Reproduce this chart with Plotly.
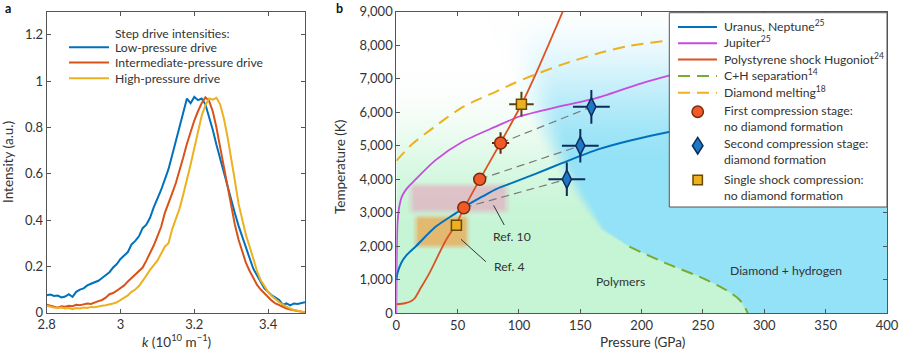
import numpy as np
import plotly.graph_objects as go

W, H = 900, 354
def fx(p): return p / W
def fy(p): return 1 - p / H

FONT = "Lato, 'Open Sans', sans-serif"
TXT = "#333333"

# ---------------- Panel a data ----------------
k_vals = [2.80, 2.81, 2.82, 2.83, 2.84, 2.85, 2.86, 2.87, 2.88, 2.89,
          2.90, 2.91, 2.92, 2.93, 2.94, 2.95, 2.96, 2.97, 2.98, 2.99,
          3.00, 3.01, 3.02, 3.03, 3.04, 3.05, 3.06, 3.07, 3.08, 3.09,
          3.10, 3.11, 3.12, 3.13, 3.14, 3.15, 3.16, 3.17, 3.18, 3.19,
          3.20, 3.21, 3.22, 3.23, 3.24, 3.25, 3.26, 3.27, 3.28, 3.29,
          3.30, 3.31, 3.32, 3.33, 3.34, 3.35, 3.36, 3.37, 3.38, 3.39,
          3.40, 3.41, 3.42, 3.43, 3.44, 3.45, 3.46, 3.47, 3.48, 3.49, 3.50]
low_drive = [0.075, 0.078, 0.072, 0.074, 0.066, 0.070, 0.080, 0.068, 0.090, 0.100,
             0.105, 0.118, 0.125, 0.130, 0.138, 0.150, 0.162, 0.175, 0.195, 0.210,
             0.232, 0.245, 0.262, 0.295, 0.310, 0.330, 0.365, 0.380, 0.410, 0.455,
             0.490, 0.530, 0.575, 0.620, 0.680, 0.740, 0.800, 0.860, 0.925, 0.905,
             0.932, 0.918, 0.925, 0.900, 0.850, 0.790, 0.725, 0.665, 0.600, 0.545,
             0.490, 0.430, 0.375, 0.325, 0.275, 0.235, 0.190, 0.160, 0.130, 0.105,
             0.090, 0.075, 0.065, 0.055, 0.035, 0.040, 0.032, 0.040, 0.038, 0.042, 0.045]
mid_drive = [0.035, 0.030, 0.025, 0.022, 0.028, 0.026, 0.030, 0.028, 0.034, 0.032,
             0.036, 0.040, 0.038, 0.045, 0.050, 0.055, 0.065, 0.080, 0.085, 0.095,
             0.105, 0.118, 0.135, 0.150, 0.165, 0.180, 0.195, 0.225, 0.255, 0.290,
             0.330, 0.370, 0.430, 0.470, 0.515, 0.560, 0.610, 0.670, 0.730, 0.785,
             0.830, 0.870, 0.905, 0.930, 0.915, 0.870, 0.800, 0.715, 0.630, 0.540,
             0.455, 0.380, 0.315, 0.260, 0.215, 0.180, 0.150, 0.120, 0.100, 0.083,
             0.065, 0.052, 0.040, 0.032, 0.025, 0.018, 0.014, 0.010, 0.006, 0.004, 0.002]
high_drive = [0.030, 0.025, 0.022, 0.020, 0.022, 0.018, 0.020, 0.015, 0.020, 0.018,
              0.022, 0.020, 0.025, 0.024, 0.028, 0.030, 0.032, 0.035, 0.040, 0.045,
              0.055, 0.062, 0.075, 0.090, 0.100, 0.115, 0.135, 0.160, 0.185, 0.205,
              0.225, 0.255, 0.285, 0.300, 0.360, 0.405, 0.450, 0.510, 0.570, 0.640,
              0.710, 0.780, 0.850, 0.895, 0.925, 0.920, 0.928, 0.900, 0.840, 0.760,
              0.670, 0.570, 0.470, 0.400, 0.335, 0.285, 0.230, 0.180, 0.140, 0.115,
              0.090, 0.072, 0.058, 0.045, 0.035, 0.025, 0.018, 0.012, 0.008, 0.004, 0.002]
a_names = ["Low-pressure drive", "Intermediate-pressure drive", "High-pressure drive"]
a_colors = ["#0072bd", "#d95319", "#edb120"]

# ---------------- Panel b data ----------------
uranus_P = [0, 1, 4, 8, 16, 32, 48.6, 58, 70, 81, 95, 114, 135, 165, 190, 223, 260, 300]
uranus_T = [1000, 1200, 1500, 1720, 2000, 2580, 2990, 3230, 3480, 3700, 3900, 4170, 4480, 4900, 5150, 5420, 5650, 5850]
jupiter_P = [0, 0.3, 1, 2.5, 4.5, 8.5, 14, 32, 54, 81, 101, 135, 163, 203, 223, 260, 300]
jupiter_T = [0, 1500, 2700, 3200, 3480, 3720, 3930, 4570, 5120, 5570, 5880, 6190, 6420, 6900, 7100, 7450, 7750]
hug_P = [0, 7, 12, 15, 20, 27, 40, 49, 55, 68, 85, 102, 115, 136]
hug_T = [270, 300, 360, 450, 760, 1200, 2150, 2680, 3120, 3990, 5090, 6230, 7250, 9030]
chsep_P = [190, 220, 247, 269, 280, 285.3, 286.5]
chsep_T = [1987, 1490, 1092, 695, 397, 98, 0]
dmelt_P = [0, 13, 27, 41, 54, 68, 81, 95, 108, 135, 163, 190, 223, 260, 300]
dmelt_T = [4550, 5050, 5450, 5830, 6150, 6400, 6610, 6850, 7050, 7420, 7740, 7980, 8150, 8320, 8480]

first_P = [55, 68, 85]
first_T = [3150, 4000, 5080]
first_Perr = [0, 0, 7]
first_Terr = [0, 0, 320]
second_P = [139, 150, 159]
second_T = [4000, 5000, 6160]
second_Perr = [15, 15, 15]
second_Terr = [500, 500, 500]
single_P = [49, 102]
single_T = [2630, 6240]
single_Perr = [0, 10]
single_Terr = [0, 370]

# Polymer / diamond boundary (for background shading)
bnd_T = [0, 98, 397, 695, 1092, 1490, 1987, 2500, 3500, 4500, 5500, 6500, 9000]
bnd_P = [287, 286, 280, 269, 247, 220, 190, 168, 150, 135, 123, 115, 100]

# ---------------- background image for panel b ----------------
def smooth(x):
    x = np.clip(x, 0, 1)
    return x * x * (3 - 2 * x)

Pg = np.arange(400) + 0.5
Tg = np.arange(300) * 30 + 15
PP, TT = np.meshgrid(Pg, Tg)
Pb = np.interp(TT, bnd_T, bnd_P)
wd = 3 + np.clip(TT - 2000, 0, None) / 4000 * 30
s = smooth((PP - Pb) / wd + 0.5)
g = smooth((7200 - TT) / 4800)
b = smooth((9300 - TT) / 5000)
white = np.array([255.0, 255.0, 255.0])
green = np.array([198.0, 245.0, 213.0])
blue = np.array([148.0, 226.0, 247.0])
gcol = white + (green - white) * g[..., None]
bcol = white + (blue - white) * b[..., None]
col = gcol * (1 - s[..., None]) + bcol * s[..., None]

def box_alpha(P0, P1, T0, T1, eP, eT):
    ax = np.clip(np.minimum(PP - P0, P1 - PP) / eP + 0.5, 0, 1)
    ay = np.clip(np.minimum(TT - T0, T1 - TT) / eT + 0.5, 0, 1)
    return ax * ay

pink = np.array([232.0, 160.0, 188.0])
orng = np.array([232.0, 176.0, 98.0])
ap = 0.6 * box_alpha(12, 90, 3030, 3830, 6, 200)
col = col * (1 - ap[..., None]) + pink * ap[..., None]
ao = 0.88 * box_alpha(16, 58, 1990, 2880, 5, 170)
col = col * (1 - ao[..., None]) + orng * ao[..., None]
img = np.clip(col, 0, 255).astype(np.uint8)

fig = go.Figure()
fig.add_trace(go.Image(z=img, x0=0.5, dx=1, y0=15, dy=30, xaxis="x2", yaxis="y2",
                       hoverinfo="skip", zsmooth="fast"))

# ---------------- panel a traces ----------------
for ys, nm, c in zip([low_drive, mid_drive, high_drive], a_names, a_colors):
    fig.add_trace(go.Scatter(x=k_vals, y=ys, mode="lines", name=nm,
                             line=dict(color=c, width=2), xaxis="x", yaxis="y",
                             showlegend=False))

# ---------------- panel b traces ----------------
def line_tr(xs, ys, color, width, dash=None):
    return go.Scatter(x=xs, y=ys, mode="lines", line=dict(color=color, width=width, dash=dash, shape="spline", smoothing=0.8),
                      xaxis="x2", yaxis="y2", showlegend=False, hoverinfo="skip")

fig.add_trace(line_tr(dmelt_P, dmelt_T, "#edb120", 2, "12px,7px"))
fig.add_trace(line_tr(chsep_P, chsep_T, "#77ac30", 2, "12px,7px"))
fig.add_trace(line_tr(jupiter_P, jupiter_T, "#c84be0", 1.8))
fig.add_trace(line_tr(uranus_P, uranus_T, "#0072bd", 2))
fig.add_trace(line_tr(hug_P, hug_T, "#de5222", 1.8))

# connectors from first stage to second stage
for i in range(3):
    fig.add_trace(go.Scatter(x=[first_P[i], second_P[i]], y=[first_T[i], second_T[i]], mode="lines",
                             line=dict(color="#7a7a7a", width=1.2, dash="8px,5px"),
                             xaxis="x2", yaxis="y2", showlegend=False, hoverinfo="skip"))

fig.add_trace(go.Scatter(x=first_P, y=first_T, mode="markers", xaxis="x2", yaxis="y2", showlegend=False,
                         error_x=dict(type="data", array=first_Perr, color="#5a2a10", thickness=2, width=0),
                         error_y=dict(type="data", array=first_Terr, color="#5a2a10", thickness=2, width=0),
                         marker=dict(symbol="circle", size=12, color="#f05a28", line=dict(color="#7a2a0a", width=1.5))))
fig.add_trace(go.Scatter(x=second_P, y=second_T, mode="markers", xaxis="x2", yaxis="y2", showlegend=False,
                         error_x=dict(type="data", array=second_Perr, color="#0d2d5a", thickness=2, width=0),
                         error_y=dict(type="data", array=second_Terr, color="#0d2d5a", thickness=2, width=0),
                         marker=dict(symbol="diamond-tall", size=13, color="#1e78c8", line=dict(color="#0d2d5a", width=1.5))))
fig.add_trace(go.Scatter(x=single_P, y=single_T, mode="markers", xaxis="x2", yaxis="y2", showlegend=False,
                         error_x=dict(type="data", array=single_Perr, color="#5a4010", thickness=2, width=0),
                         error_y=dict(type="data", array=single_Terr, color="#5a4010", thickness=2, width=0),
                         marker=dict(symbol="square", size=10, color="#edb120", line=dict(color="#6a4a00", width=1.5))))

# ---------------- layout ----------------
axis_common = dict(showgrid=False, zeroline=False, showline=True, mirror="ticks", ticks="inside",
                   ticklen=4, tickwidth=1, tickcolor="#555", linecolor="#555", linewidth=1,
                   automargin=False, tickfont=dict(family=FONT, size=13, color=TXT))

shapes = []
annotations = []

def ann(text, x, y, xanchor="center", yanchor="middle", size=12.2, ref="paper", **kw):
    xr, yr = ("paper", "paper") if ref == "paper" else ("x2", "y2")
    annotations.append(dict(text=text, x=x, y=y, xref=xr, yref=yr, xanchor=xanchor, yanchor=yanchor,
                            showarrow=False, font=dict(family=FONT, size=size, color=TXT), **kw))

# panel a legend
ann("Step drive intensities:", fx(113.3), fy(33.3), "left")
for i, (nm, c) in enumerate(zip(a_names, a_colors)):
    yy = [47.3, 62.6, 78.3][i]
    shapes.append(dict(type="line", xref="paper", yref="paper", x0=fx(69), x1=fx(109), y0=fy(yy), y1=fy(yy),
                       line=dict(color=c, width=2), layer="above"))
    ann(nm, fx(113.3), fy(yy), "left")

# panel labels
annotations.append(dict(text="<b>a</b>", x=fx(3), y=fy(8.5), xref="paper", yref="paper", xanchor="left",
                        yanchor="middle", showarrow=False, font=dict(family=FONT, size=12.5, color="#111")))
annotations.append(dict(text="<b>b</b>", x=fx(334), y=fy(8.5), xref="paper", yref="paper", xanchor="left",
                        yanchor="middle", showarrow=False, font=dict(family=FONT, size=12.5, color="#111")))

# axis titles
ann("Intensity (a.u.)", fx(8), fy(162), size=13.5, textangle=-90)
ann("<i>k</i> (10<sup>10</sup> m<sup>−1</sup>)", fx(176), fy(341), size=13.5)
ann("Temperature (K)", fx(340), fy(167), size=13.5, textangle=-90)
ann("Pressure (GPa)", fx(642), fy(342), size=13.5)

# panel b in-plot labels
ann("Ref. 10", 77, 2300, "left", ref="b")
ann("Ref. 4", 78, 1390, "left", ref="b")
ann("Polymers", 183, 943, ref="b")
ann("Diamond + hydrogen", 318, 1292, ref="b")
shapes.append(dict(type="line", xref="x2", yref="y2", x0=79.3, y0=3222, x1=88, y1=2634,
                   line=dict(color="#333", width=1)))
shapes.append(dict(type="line", xref="x2", yref="y2", x0=52.7, y0=2208, x1=73, y1=1540,
                   line=dict(color="#333", width=1)))

# panel b legend
shapes.append(dict(type="rect", xref="paper", yref="paper", x0=fx(669.3), x1=fx(887), y0=fy(207), y1=fy(12.7),
                   fillcolor="white", line=dict(color="#555", width=1), layer="above"))
leg_lines = [("Uranus, Neptune<sup>25</sup>", "#0072bd", None, 26),
             ("Jupiter<sup>25</sup>", "#c84be0", None, 42.3),
             ("Polystyrene shock Hugoniot<sup>24</sup>", "#de5222", None, 58.5),
             ("C+H separation<sup>14</sup>", "#77ac30", "12px,7px", 75),
             ("Diamond melting<sup>18</sup>", "#edb120", "12px,7px", 91.7)]
for t, c, d, yy in leg_lines:
    shapes.append(dict(type="line", xref="paper", yref="paper", x0=fx(678), x1=fx(717), y0=fy(yy + 1), y1=fy(yy + 1),
                       line=dict(color=c, width=2, dash=d), layer="above"))
    ann(t, fx(721.7), fy(yy), "left")
leg_markers = [("First compression stage:<br>no diamond formation", 118.3),
               ("Second compression stage:<br>diamond formation", 151.7),
               ("Single shock compression:<br>no diamond formation", 187.5)]
for t, ty in leg_markers:
    ann(t, fx(721.7), fy(ty), "left", align="left")
cx = 697.7
shapes.append(dict(type="circle", xref="paper", yref="paper", x0=fx(cx - 5.7), x1=fx(cx + 5.7),
                   y0=fy(111.7 + 5.7), y1=fy(111.7 - 5.7), fillcolor="#f05a28",
                   line=dict(color="#7a2a0a", width=1.5), layer="above"))
hw, hh, cy = 5.3, 8.3, 145.7
shapes.append(dict(type="path", xref="paper", yref="paper",
                   path=f"M {fx(cx)},{fy(cy - hh)} L {fx(cx + hw)},{fy(cy)} L {fx(cx)},{fy(cy + hh)} L {fx(cx - hw)},{fy(cy)} Z",
                   fillcolor="#1e78c8", line=dict(color="#0d2d5a", width=1.5), layer="above"))
shapes.append(dict(type="rect", xref="paper", yref="paper", x0=fx(cx - 4.7), x1=fx(cx + 4.7),
                   y0=fy(180 + 4.7), y1=fy(180 - 4.7), fillcolor="#edb120",
                   line=dict(color="#6a4a00", width=1.5), layer="above"))

fig.update_layout(
    width=W, height=H, margin=dict(l=0, r=0, t=0, b=0, autoexpand=False),
    paper_bgcolor="white", plot_bgcolor="white", showlegend=False,
    font=dict(family=FONT, color=TXT),
    xaxis=dict(domain=[fx(46.7), fx(305)], range=[2.8, 3.5], tickvals=[2.8, 3.0, 3.2, 3.4], anchor="y", **axis_common),
    yaxis=dict(domain=[fy(312.7), fy(11.7)], range=[0, 1.3], tick0=0, dtick=0.2, anchor="x", **axis_common),
    xaxis2=dict(domain=[fx(396.3), fx(887)], range=[0, 400], dtick=50, tick0=0, anchor="y2", **axis_common),
    yaxis2=dict(domain=[fy(313.3), fy(11.7)], range=[0, 9000], dtick=1000, tick0=0, tickformat=",d",
                anchor="x2", autorange=False, scaleanchor=False, **axis_common),
    shapes=shapes, annotations=annotations,
)
fig.update_xaxes(autorange=False)
fig.write_html("out.html")
